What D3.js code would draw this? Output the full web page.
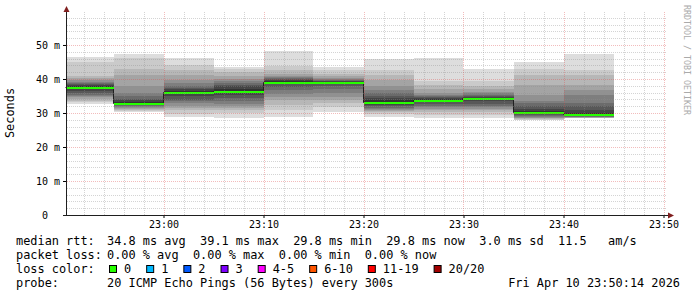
<!DOCTYPE html>
<html>
<head>
<meta charset="utf-8">
<script src="https://cdn.jsdelivr.net/npm/d3@7"></script>
<style>
body { margin: 0; background: #fff; }
text { font-family: "DejaVu Sans Mono", monospace; white-space: pre; }
</style>
</head>
<body>
<svg id="chart"></svg>
<script>
// 5 minute steps (end time of each step)
var stepEnds = ['22:55', '23:00', '23:05', '23:10', '23:15', '23:20', '23:25', '23:30', '23:35', '23:40', '23:45'];
var medianRtt = [37.7, 33.0, 36.3, 36.6, 39.1, 39.0, 33.3, 33.9, 34.3, 30.4, 29.8];
// sorted ping times (ms) of the 20 pings in each step
var pings = [
    [32.5, 33.1, 33.6, 34.1, 34.6, 35.0, 35.4, 35.9, 36.6, 37.4, 37.9, 38.2, 38.5, 38.8, 39.1, 39.7, 40.3, 40.9, 45.0, 46.4],
    [30.4, 30.7, 31.0, 31.3, 31.6, 31.9, 32.1, 32.3, 32.5, 32.8, 33.3, 33.7, 34.2, 35.0, 36.0, 38.0, 41.2, 42.8, 46.2, 47.4],
    [28.7, 29.7, 30.9, 31.5, 32.2, 32.9, 33.5, 33.9, 34.9, 36.0, 36.6, 37.0, 37.4, 38.0, 38.8, 39.7, 41.2, 42.6, 44.1, 46.1],
    [28.4, 30.0, 30.9, 31.4, 32.0, 32.7, 33.6, 34.5, 35.2, 36.0, 37.2, 37.8, 38.3, 38.8, 39.3, 40.0, 41.0, 42.0, 42.9, 43.6],
    [28.9, 31.0, 32.3, 33.7, 34.7, 35.7, 36.8, 37.6, 38.4, 39.0, 39.3, 39.6, 39.9, 40.2, 40.6, 41.0, 41.6, 42.5, 43.8, 48.2],
    [30.4, 31.8, 32.8, 33.7, 34.8, 35.8, 37.0, 37.8, 38.4, 38.9, 39.1, 39.3, 39.5, 39.7, 40.0, 40.4, 40.9, 41.6, 42.6, 43.6],
    [28.9, 29.8, 30.2, 30.6, 30.9, 31.2, 31.6, 32.0, 32.4, 32.9, 33.7, 34.3, 35.0, 35.9, 36.8, 38.0, 39.8, 41.2, 42.6, 45.8],
    [28.5, 29.5, 30.2, 30.8, 31.3, 31.8, 32.2, 32.6, 33.1, 33.7, 34.1, 34.4, 34.7, 35.0, 35.4, 36.0, 37.0, 38.2, 39.5, 46.1],
    [28.6, 29.5, 30.2, 30.8, 31.3, 31.7, 32.2, 32.7, 33.4, 34.1, 34.5, 34.8, 35.0, 35.3, 35.8, 36.3, 37.0, 38.0, 39.4, 43.0],
    [27.8, 28.0, 28.2, 28.4, 28.6, 28.8, 29.0, 29.3, 29.6, 30.1, 30.7, 31.3, 32.0, 32.9, 33.5, 35.3, 38.2, 41.3, 42.9, 44.9],
    [28.4, 28.45, 28.5, 28.6, 28.7, 28.8, 28.9, 29.0, 29.2, 29.5, 30.1, 31.0, 32.0, 33.0, 35.3, 36.8, 38.2, 41.2, 42.6, 47.4]
];
var yTicks = [0, 10, 20, 30, 40, 50];
var yTickLabels = [' 0  ', '10 m', '20 m', '30 m', '40 m', '50 m'];
var lossLabels = ['0', '1', '2', '3', '4-5', '6-10', '11-19', '20/20'];
var lossColors = ['#26ff00', '#00b8ff', '#0059ff', '#7e00ff', '#ff00ff', '#ff5500', '#ff0000', '#a10000'];
var rttStats = ['34.8 ms avg', '39.1 ms max', '29.8 ms min', '29.8 ms now', '3.0 ms sd', '11.5   am/s'];
var lossStats = ['0.00 % avg', '0.00 % max', '0.00 % min', '0.00 % now'];
var probeText = '20 ICMP Echo Pings (56 Bytes) every 300s';
var stampText = 'Fri Apr 10 23:50:14 2026';

var chart_width     =   697;
var chart_height    =   297;
var day             =   '2026-04-10 ';
var parseTime       =   d3.utcParse('%Y-%m-%d %H:%M:%S');

var svg             =   d3.select('#chart')
    .attr('width', chart_width)
    .attr('height', chart_height);

// Scales
var x_scale = d3.scaleUtc()
    .domain([parseTime(day + '22:50:15'), parseTime(day + '23:50:15')])
    .range([66, 666]);
var y_scale = d3.scaleLinear()
    .domain([0, 59.7])
    .range([215, 12]);

var steps = stepEnds.map(function(s, i) {
    var t1 = parseTime(day + s + ':00');
    var t0 = d3.utcMinute.offset(t1, -5);
    return {
        x0: Math.max(Math.round(x_scale(t0)), 66),
        x1: Math.round(x_scale(t1)),
        median: medianRtt[i],
        p: pings[i]
    };
});

// Smoke: band i spans ping i .. ping 19-i, darker towards the middle
var smoke = svg.append('g').attr('shape-rendering', 'crispEdges');
d3.range(10).forEach(function(i) {
    var c = Math.floor(190 / 10 * (10 - (i + 1))) + 50;
    smoke.selectAll(null)
        .data(steps)
        .enter()
        .append('rect')
        .attr('x', function(d) { return d.x0; })
        .attr('width', function(d) { return d.x1 - d.x0; })
        .attr('y', function(d) { return y_scale(d.p[19 - i]); })
        .attr('height', function(d) { return y_scale(d.p[i]) - y_scale(d.p[19 - i]); })
        .attr('fill', d3.rgb(c, c, c));
});

// Median line (dark step line + loss coloured band)
var medPoints = [];
steps.forEach(function(d) {
    medPoints.push([d.x0, d.median]);
    medPoints.push([d.x1, d.median]);
});
svg.append('path')
    .datum(medPoints)
    .attr('fill', 'none')
    .attr('stroke', '#202020')
    .attr('stroke-width', 1)
    .attr('d', d3.line()
        .x(function(d) { return d[0] - 0.5; })
        .y(function(d) { return Math.round(y_scale(d[1])) + 0.5; }));

svg.append('g')
    .attr('shape-rendering', 'crispEdges')
    .selectAll('rect')
    .data(steps)
    .enter()
    .append('rect')
    .attr('x', function(d) { return d.x0; })
    .attr('width', function(d) { return d.x1 - d.x0; })
    .attr('y', function(d) { return Math.round(y_scale(d.median)) - 0.5; })
    .attr('height', 2)
    .attr('fill', lossColors[0]);

// Grid
var t_start = x_scale.domain()[0], t_end = x_scale.domain()[1];
var grid = svg.append('g').attr('shape-rendering', 'crispEdges');
var minorT = d3.utcMinute.every(2).range(t_start, t_end).filter(function(t) { return t.getUTCMinutes() % 10 !== 0; });
var majorT = d3.utcMinute.every(10).range(t_start, t_end);
var minorV = d3.range(2, 59.7, 2).filter(function(v) { return v % 10 !== 0; });
var majorV = [10, 20, 30, 40, 50];

function vLines(data, color) {
    grid.selectAll(null).data(data).enter().append('line')
        .attr('x1', function(d) { return Math.round(x_scale(d)) + 0.5; })
        .attr('x2', function(d) { return Math.round(x_scale(d)) + 0.5; })
        .attr('y1', 215).attr('y2', 12)
        .attr('stroke', color).attr('stroke-dasharray', '1,1');
}
function hLines(data, color) {
    grid.selectAll(null).data(data).enter().append('line')
        .attr('y1', function(d) { return Math.round(y_scale(d)) + 0.5; })
        .attr('y2', function(d) { return Math.round(y_scale(d)) + 0.5; })
        .attr('x1', 67).attr('x2', 666)
        .attr('stroke', color).attr('stroke-dasharray', '1,1');
}
vLines(minorT, 'rgba(143,143,143,0.38)');
hLines(minorV, 'rgba(143,143,143,0.38)');
vLines(majorT, 'rgba(222,79,79,0.38)');
hLines(majorV, 'rgba(222,79,79,0.38)');

// Axes
var x_axis = d3.axisBottom(x_scale)
    .ticks(d3.utcMinute.every(10))
    .tickFormat(d3.utcFormat('%H:%M'))
    .tickSize(3)
    .tickPadding(3);
svg.append('g')
    .attr('transform', 'translate(0,215)')
    .call(x_axis)
    .call(function(g) {
        g.select('.domain').remove();
        g.selectAll('text').attr('font-family', '"DejaVu Sans Mono", monospace').attr('font-size', 10).attr('fill', '#000');
    });

var y_axis = d3.axisLeft(y_scale)
    .tickValues(yTicks)
    .tickFormat(function(d, i) { return yTickLabels[i]; })
    .tickSize(3)
    .tickPadding(3);
svg.append('g')
    .attr('transform', 'translate(66,0)')
    .call(y_axis)
    .call(function(g) {
        g.select('.domain').remove();
        g.selectAll('text').attr('font-family', '"DejaVu Sans Mono", monospace').attr('font-size', 10).attr('fill', '#000');
    });

svg.append('line')
    .attr('x1', 66.5).attr('x2', 66.5).attr('y1', 216).attr('y2', 10)
    .attr('stroke', '#1f1f1f');
svg.append('line')
    .attr('x1', 63).attr('x2', 668).attr('y1', 215.5).attr('y2', 215.5)
    .attr('stroke', '#1f1f1f');
svg.append('path')
    .attr('d', 'M63.5,12 L66.5,6 L69.5,12 Z')
    .attr('fill', '#801f1f');
svg.append('path')
    .attr('d', 'M668,212.5 L674,215.5 L668,218.5 Z')
    .attr('fill', '#801f1f');

// Axis title and watermark
svg.append('text')
    .attr('transform', 'translate(14,113) rotate(-90)')
    .attr('text-anchor', 'middle')
    .attr('font-size', 11.9)
    .text('Seconds');
svg.append('text')
    .attr('transform', 'translate(684,5) rotate(90)')
    .attr('font-size', 8.3)
    .attr('fill', '#aaaaaa')
    .text('RRDTOOL / TOBI OETIKER');

// Legend
var legend = svg.append('g').attr('font-size', 11.9).attr('fill', '#000');
function legendLine(label, value, yPos) {
    legend.append('text').attr('x', 16).attr('y', yPos).text(label);
    if (value) legend.append('text').attr('x', 107).attr('y', yPos).text(value);
}
legendLine('median rtt:', rttStats.join('  '), 245);
legendLine('packet loss:', lossStats.join('  '), 259);
legendLine('loss color:', null, 273);
legendLine('probe:', probeText, 287);
legend.append('text')
    .attr('x', 680).attr('y', 287)
    .attr('text-anchor', 'end')
    .text(stampText);

var bx = 109;
lossLabels.forEach(function(l, i) {
    legend.append('rect')
        .attr('x', bx + 0.5).attr('y', 265.5)
        .attr('width', 7).attr('height', 7)
        .attr('fill', lossColors[i])
        .attr('stroke', '#000');
    var t = legend.append('text')
        .attr('x', bx + 15).attr('y', 273)
        .text(l);
    bx = bx + 15 + t.node().getComputedTextLength() + 15;
});
</script>
</body>
</html>
